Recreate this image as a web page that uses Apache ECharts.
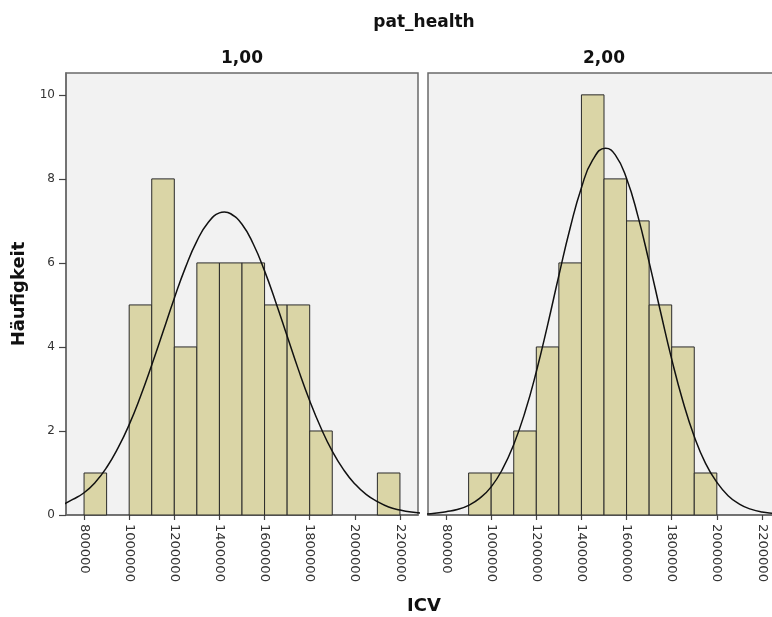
<!DOCTYPE html>
<html>
<head>
<meta charset="utf-8">
<script src="https://cdn.jsdelivr.net/npm/echarts@6/dist/echarts.min.js"></script>
<style>
html,body{margin:0;padding:0;background:#fff;}
#chart{width:772px;height:617px;}
</style>
</head>
<body>
<div id="chart"></div>
<script>
// ---- data ----
const panelLabels = ['1,00', '2,00'];
const binWidth = 100000;
const binStarts1 = [800000, 1000000, 1100000, 1200000, 1300000, 1400000, 1500000, 1600000, 1700000, 1800000, 2100000];
const counts1    = [1, 5, 8, 4, 6, 6, 6, 5, 5, 2, 1];
const binStarts2 = [900000, 1000000, 1100000, 1200000, 1300000, 1400000, 1500000, 1600000, 1700000, 1800000, 1900000];
const counts2    = [1, 1, 2, 4, 6, 10, 8, 7, 5, 4, 1];
const curveX1 = [700000, 750000, 800000, 850000, 900000, 950000, 1000000, 1050000, 1100000, 1150000, 1200000,
  1250000, 1300000, 1350000, 1400000, 1422000, 1450000, 1500000, 1550000, 1600000, 1650000, 1700000, 1750000,
  1800000, 1850000, 1900000, 1950000, 2000000, 2050000, 2100000, 2150000, 2200000, 2250000, 2300000];
const curve1 = [0.23, 0.37, 0.53, 0.78, 1.13, 1.59, 2.15, 2.82, 3.57, 4.36, 5.16, 5.90, 6.52, 6.96, 7.19, 7.21, 7.17, 6.92,
  6.45, 5.81, 5.06, 4.26, 3.46, 2.72, 2.07, 1.52, 1.08, 0.74, 0.49, 0.32, 0.19, 0.12, 0.07, 0.04];
const curveX2 = [700000, 750000, 800000, 850000, 900000, 950000, 1000000, 1050000, 1100000, 1150000, 1200000,
  1250000, 1300000, 1350000, 1400000, 1450000, 1507000, 1550000, 1600000, 1650000, 1700000, 1750000,
  1800000, 1850000, 1900000, 1950000, 2000000, 2050000, 2100000, 2150000, 2200000, 2250000, 2300000];
const curve2 = [0.02, 0.04, 0.08, 0.13, 0.23, 0.40, 0.67, 1.09, 1.68, 2.45, 3.41, 4.52, 5.70, 6.83, 7.79, 8.45, 8.73,
  8.57, 8.01, 7.12, 6.02, 4.85, 3.71, 2.70, 1.87, 1.23, 0.78, 0.46, 0.26, 0.14, 0.07, 0.04, 0.02];
const xTicks = [800000, 1000000, 1200000, 1400000, 1600000, 1800000, 2000000, 2200000];
const yTicks = [0, 2, 4, 6, 8, 10];
const facetTitle = 'pat_health';
const xName = 'ICV';
const yName = 'Häufigkeit';

// ---- build ----
const FONT = 'DejaVu Sans';
const FRAME = '#6a6a6a';
const grids = [
  {left: 66, top: 73, width: 352, height: 442},
  {left: 428, top: 73, width: 352, height: 442}
].map(g => Object.assign(g, {show: true, outerBoundsMode: 'none', containLabel: false,
  backgroundColor: '#f2f2f2', borderColor: FRAME, borderWidth: 1.5}));

function xAxis(i) {
  return {
    type: 'value', gridIndex: i, min: 720000, max: 2280000,
    axisLine: {show: true, lineStyle: {color: FRAME, width: 1.5}},
    axisTick: {show: true, length: 5, customValues: xTicks, lineStyle: {color: '#444', width: 1.2}},
    axisLabel: {show: true, customValues: xTicks, rotate: -90, margin: 9, fontSize: 13,
      fontFamily: FONT, color: '#333', formatter: v => String(v)},
    splitLine: {show: false}
  };
}
function yAxis(i) {
  const first = i === 0;
  return {
    type: 'value', gridIndex: i, min: 0, max: 10.52,
    axisLine: {show: first, lineStyle: {color: FRAME, width: 1.5}},
    axisTick: {show: first, length: 7, customValues: yTicks, lineStyle: {color: '#444', width: 1.2}},
    axisLabel: {show: first, customValues: yTicks, margin: 11, fontSize: 12, fontFamily: FONT, color: '#333',
      formatter: v => String(v)},
    splitLine: {show: false},
    name: first ? yName : '', nameLocation: 'middle', nameGap: 38,
    nameTextStyle: {fontSize: 18, fontWeight: 'bold', fontFamily: FONT, color: '#111'}
  };
}
function histSeries(i, starts, counts) {
  return {
    type: 'custom', xAxisIndex: i, yAxisIndex: i, z: 2,
    data: starts.map((s, k) => [s, s + binWidth, counts[k]]),
    encode: {x: [0, 1], y: 2},
    renderItem: (params, api) => {
      const p0 = api.coord([api.value(0), api.value(2)]);
      const p1 = api.coord([api.value(1), 0]);
      return {type: 'rect', shape: {x: p0[0], y: p0[1], width: p1[0] - p0[0], height: p1[1] - p0[1]},
        style: {fill: '#dad5a6', stroke: '#2a2a2a', lineWidth: 1}};
    }
  };
}
function curveSeries(i, xs, ys) {
  return {
    type: 'line', xAxisIndex: i, yAxisIndex: i, z: 3, smooth: true, showSymbol: false, clip: true,
    lineStyle: {color: '#111', width: 1.5}, silent: true,
    data: xs.map((x, k) => [x, ys[k]])
  };
}
const titleStyle = {fontSize: 17, fontWeight: 'bold', fontFamily: FONT, color: '#111'};
const option = {
  animation: false,
  backgroundColor: '#fff',
  title: [
    {text: facetTitle, left: 424, top: 14, textAlign: 'center', padding: 0, textStyle: titleStyle},
    {text: panelLabels[0], left: 242, top: 50, textAlign: 'center', padding: 0, textStyle: titleStyle},
    {text: panelLabels[1], left: 604, top: 50, textAlign: 'center', padding: 0, textStyle: titleStyle},
    {text: xName, left: 424, top: 597, textAlign: 'center', padding: 0,
      textStyle: Object.assign({}, titleStyle, {fontSize: 18})}
  ],
  grid: grids,
  xAxis: [xAxis(0), xAxis(1)],
  yAxis: [yAxis(0), yAxis(1)],
  series: [
    histSeries(0, binStarts1, counts1),
    histSeries(1, binStarts2, counts2),
    curveSeries(0, curveX1, curve1),
    curveSeries(1, curveX2, curve2)
  ]
};
const chart = echarts.init(document.getElementById('chart'), null, {renderer: 'canvas'});
chart.setOption(option);
</script>
</body>
</html>
